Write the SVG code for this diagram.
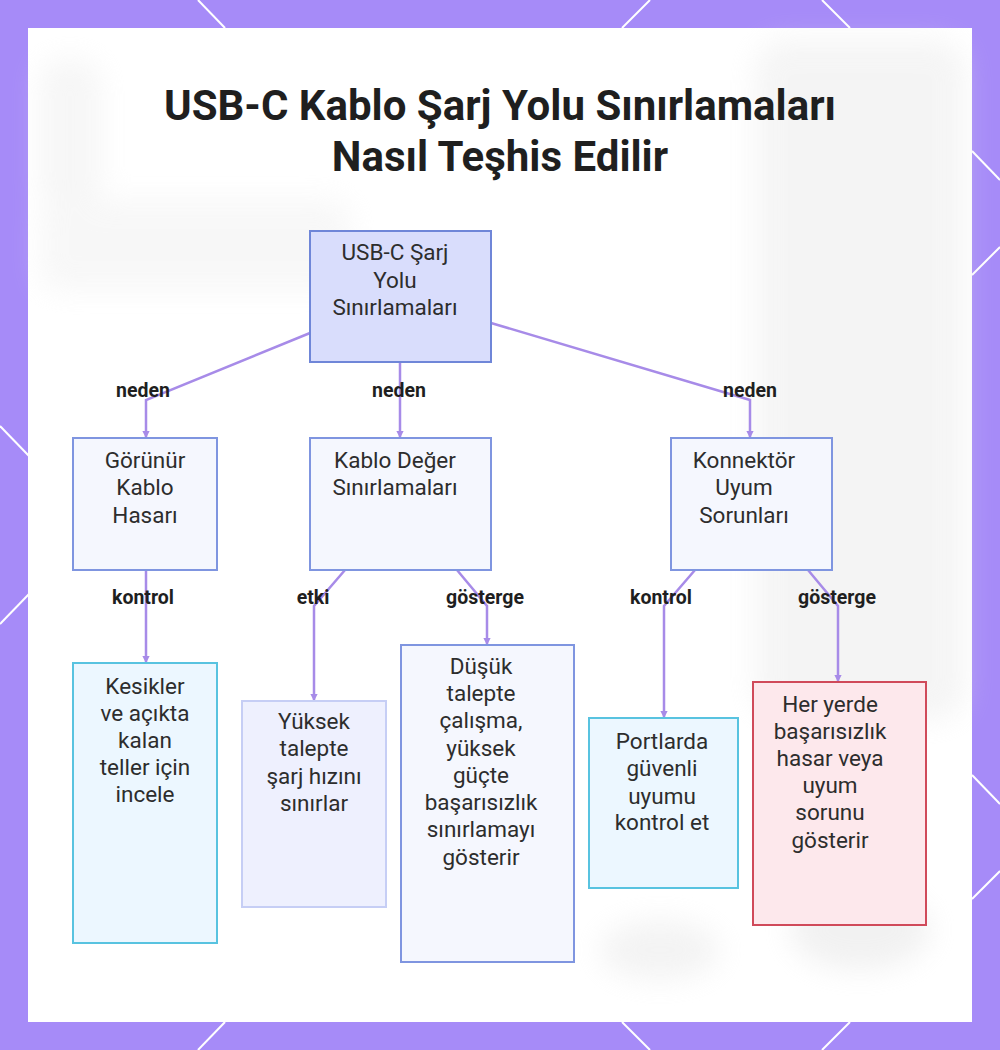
<svg xmlns="http://www.w3.org/2000/svg" width="1000" height="1050" viewBox="0 0 1000 1050">
<defs>
<style>
.title{font-family:Roboto,"Liberation Sans",sans-serif;font-weight:700;font-size:42px;fill:#1f1f1f;text-anchor:middle}
.nt{font-family:Roboto,"Liberation Sans",sans-serif;font-size:22.5px;fill:#2d2d2d;text-anchor:middle}
.el{font-family:Roboto,"Liberation Sans",sans-serif;font-weight:700;font-size:19.5px;fill:#1f1f1f;text-anchor:middle}
.edge{fill:none;stroke:#a78be8;stroke-width:2.5;marker-end:url(#arr)}
.deco{stroke:#ffffff;stroke-width:2;fill:none}
.root{fill:#d9ddfc;stroke:#6f86d8;stroke-width:2}
.mid{fill:#f5f7fe;stroke:#7f95e0;stroke-width:2}
.cyan{fill:#ecf7ff;stroke:#58c3e0;stroke-width:2}
.soft{fill:#eef0fe;stroke:#c6cef5;stroke-width:2}
.red{fill:#fde8ec;stroke:#d04a5a;stroke-width:2}
</style>
<marker id="arr" viewBox="0 0 6 6" refX="5" refY="3" markerWidth="3" markerHeight="3" orient="auto">
<path d="M0,0 L6,3 L0,6 z" fill="#a78be8"/>
</marker>
<filter id="blur" x="-20%" y="-20%" width="140%" height="140%"><feGaussianBlur stdDeviation="14"/></filter>
</defs>
<rect x="0" y="0" width="1000" height="1050" fill="#a68bf8"/>
<g class="deco">
<line x1="198" y1="0" x2="225" y2="28"/><line x1="622" y1="28" x2="650" y2="0"/><line x1="822" y1="0" x2="850" y2="28"/>
<line x1="225" y1="1022" x2="198" y2="1050"/><line x1="622" y1="1022" x2="650" y2="1050"/><line x1="850" y1="1022" x2="822" y2="1050"/>
<line x1="0" y1="426" x2="29" y2="456"/><line x1="29" y1="594" x2="0" y2="624"/>
<line x1="972" y1="151" x2="1000" y2="180"/><line x1="972" y1="275" x2="1000" y2="247"/>
<line x1="972" y1="775" x2="1000" y2="804"/><line x1="972" y1="899" x2="1000" y2="871"/>
</g>
<rect x="28" y="28" width="944" height="994" fill="#ffffff"/>
<g filter="url(#blur)" opacity="0.4">
<rect x="755" y="40" width="210" height="680" rx="30" fill="#e6e6e6"/>
<rect x="40" y="60" width="60" height="150" rx="20" fill="#e9e9e9"/>
<rect x="40" y="200" width="310" height="90" rx="20" fill="#ececec"/>
<ellipse cx="860" cy="930" rx="70" ry="40" fill="#dddddd"/>
<ellipse cx="660" cy="950" rx="60" ry="30" fill="#e2e2e2"/>
</g>
<text class="title" x="500" y="120">USB-C Kablo Şarj Yolu Sınırlamaları</text>
<text class="title" x="500" y="171">Nasıl Teşhis Edilir</text>
<g id="connectors">
<polyline class="edge" points="310,333 146,400 146,437"/>
<polyline class="edge" points="400,362 400,437"/>
<polyline class="edge" points="491,323 750,400 750,437"/>
<polyline class="edge" points="146,570 146,662"/>
<polyline class="edge" points="345,570 314,606 314,700"/>
<polyline class="edge" points="457,570 487,606 487,644"/>
<polyline class="edge" points="695,570 664,606 664,717"/>
<polyline class="edge" points="808,570 838,606 838,681"/>
<text class="el" x="143" y="397">neden</text>
<text class="el" x="399" y="397">neden</text>
<text class="el" x="750" y="397">neden</text>
<text class="el" x="143" y="604">kontrol</text>
<text class="el" x="313" y="604">etki</text>
<text class="el" x="485" y="604">gösterge</text>
<text class="el" x="661" y="604">kontrol</text>
<text class="el" x="837" y="604">gösterge</text>
</g>
<g id="root">
<rect class="root" x="310" y="231" width="181" height="131"/>
<text class="nt" x="395" y="260">USB-C Şarj</text>
<text class="nt" x="395" y="288">Yolu</text>
<text class="nt" x="395" y="315">Sınırlamaları</text>
</g>
<g id="gorunur">
<rect class="mid" x="73" y="438" width="144" height="132"/>
<text class="nt" x="145" y="468">Görünür</text>
<text class="nt" x="145" y="495">Kablo</text>
<text class="nt" x="145" y="523">Hasarı</text>
</g>
<g id="deger">
<rect class="mid" x="310" y="438" width="181" height="132"/>
<text class="nt" x="395" y="468">Kablo Değer</text>
<text class="nt" x="395" y="495">Sınırlamaları</text>
</g>
<g id="konnektor">
<rect class="mid" x="671" y="438" width="161" height="132"/>
<text class="nt" x="744" y="468">Konnektör</text>
<text class="nt" x="744" y="495">Uyum</text>
<text class="nt" x="744" y="523">Sorunları</text>
</g>
<g id="kesikler">
<rect class="cyan" x="73" y="663" width="144" height="280"/>
<text class="nt" x="145" y="694">Kesikler</text>
<text class="nt" x="145" y="721">ve açıkta</text>
<text class="nt" x="145" y="748">kalan</text>
<text class="nt" x="145" y="775">teller için</text>
<text class="nt" x="145" y="802">incele</text>
</g>
<g id="yuksek">
<rect class="soft" x="242" y="701" width="144" height="206"/>
<text class="nt" x="314" y="729">Yüksek</text>
<text class="nt" x="314" y="756">talepte</text>
<text class="nt" x="314" y="784">şarj hızını</text>
<text class="nt" x="314" y="811">sınırlar</text>
</g>
<g id="dusuk">
<rect class="mid" x="401" y="645" width="173" height="317"/>
<text class="nt" x="481" y="674">Düşük</text>
<text class="nt" x="481" y="701">talepte</text>
<text class="nt" x="481" y="728">çalışma,</text>
<text class="nt" x="481" y="756">yüksek</text>
<text class="nt" x="481" y="783">güçte</text>
<text class="nt" x="481" y="810">başarısızlık</text>
<text class="nt" x="481" y="837">sınırlamayı</text>
<text class="nt" x="481" y="865">gösterir</text>
</g>
<g id="portlarda">
<rect class="cyan" x="589" y="718" width="149" height="170"/>
<text class="nt" x="662" y="749">Portlarda</text>
<text class="nt" x="662" y="776">güvenli</text>
<text class="nt" x="662" y="804">uyumu</text>
<text class="nt" x="662" y="830">kontrol et</text>
</g>
<g id="heryerde">
<rect class="red" x="753" y="682" width="173" height="243"/>
<text class="nt" x="830" y="712">Her yerde</text>
<text class="nt" x="830" y="739">başarısızlık</text>
<text class="nt" x="830" y="766">hasar veya</text>
<text class="nt" x="830" y="793">uyum</text>
<text class="nt" x="830" y="820">sorunu</text>
<text class="nt" x="830" y="848">gösterir</text>
</g>
</svg>
